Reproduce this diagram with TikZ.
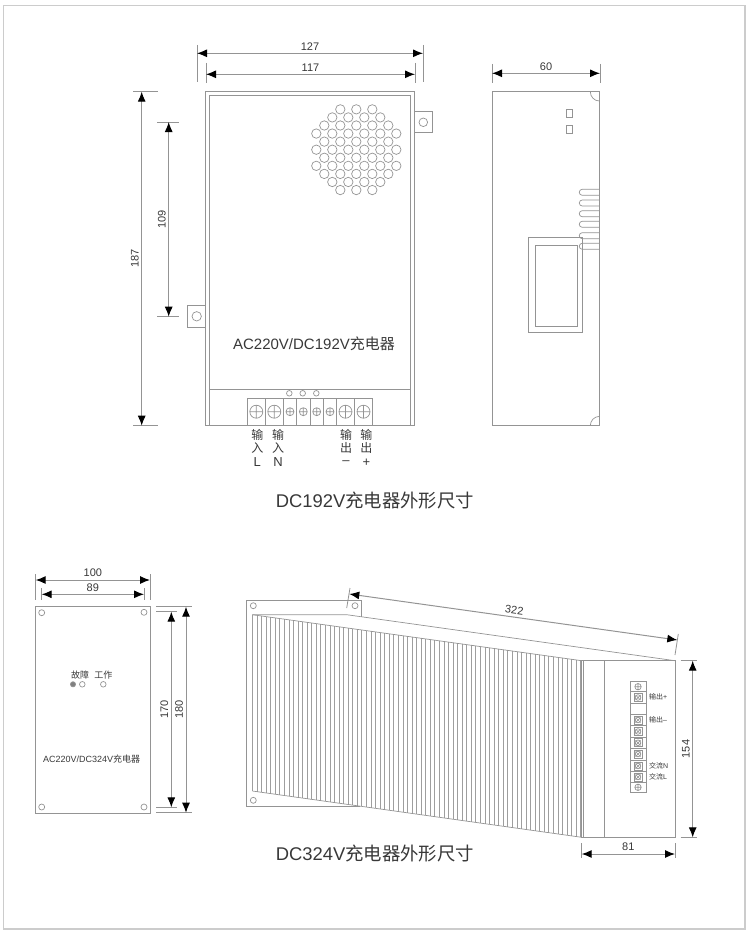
\documentclass[tikz,border=0pt]{standalone}
\usepackage{fontspec}
\setmainfont{Liberation Sans}
\newfontfamily\cjk{Noto Sans CJK SC}
\usetikzlibrary{arrows.meta,positioning}
\definecolor{linegray}{gray}{.58}
\definecolor{fingray}{gray}{.62}
\definecolor{textgray}{gray}{.22}
\definecolor{framegray}{gray}{.80}
\def\Fs#1{\fontsize{#1}{#1}\selectfont}
\def\CN#1{{\cjk #1}}
\tikzset{
	partline/.style={draw=linegray,line width=1pt},
	thinline/.style={draw=linegray,line width=.7pt},
	finline/.style={draw=fingray,line width=.55pt},
	extline/.style={draw=linegray,line width=.8pt},
	dimline/.style={draw=linegray,line width=1pt,{Latex[length=10pt,width=8pt,black]}-{Latex[length=10pt,width=8pt,black]}},
	dimlabel/.style={text=textgray,inner sep=2.5pt,font=\Fs{11}},
	caption/.style={text=textgray,inner sep=0pt},
}
% dimension line: name, start, end, text
\newcommand{\DimLine}[4]{
	\coordinate(#1a) at #2;
	\coordinate(#1b) at #3;
	\draw[dimline](#1a)-- node[dimlabel,sloped,above](#1t){#4} (#1b);
}
% extension line: name, start, end
\newcommand{\ExtLine}[3]{
	\coordinate(#1a) at #2;
	\coordinate(#1b) at #3;
	\draw[extline](#1a)--(#1b);
}
\begin{document}
\begin{tikzpicture}[x=1pt,y=-1pt]
	\useasboundingbox (0,0) rectangle (750,934);
	\draw[draw=framegray,line width=1.6pt] (3.5,5.5) rectangle (745,929);

	% DC192V front view
	\draw[partline] (205.3,91.7) rectangle (414,425);
	\draw[thinline] (209.3,425) -- (209.3,95.3) -- (410.7,95.3) -- (410.7,425);
	\draw[thinline] (209.3,389.3) -- (410.7,389.3);
	\draw[thinline] (414,111) rectangle (432.3,132.7);
	\draw[thinline] (423.3,122.3) circle (4.3pt);
	\draw[thinline] (187.3,305.3) rectangle (205.3,327.3);
	\draw[thinline] (196.7,316.3) circle (4.7pt);
	\foreach \rw/\hw in {-5/16,-4/24,-3/32,-2/40,-1/32,0/40,1/32,2/40,3/32,4/24,5/16}{
		\pgfmathtruncatemacro{\hn}{\hw/8}
		\foreach \hc in {0,...,\hn}
			\draw[thinline] ({356.3-\hw+16*\hc},{149.7+8.07*\rw}) circle (4.7pt);
	}
	\foreach \bx in {247.3,265.3,283.3,296.7,310,323.3,336.7,354.3,372.3}
		\draw[thinline] (\bx,398.3) -- (\bx,425);
	\draw[thinline] (247.3,398.3) -- (372.3,398.3);
	\foreach \sx in {256.3,274.3,345.5,363.5}
		\draw[thinline] (\sx,411.7) circle (6.5pt) ++(-6.5,0) -- ++(13,0) ++(-6.5,-6.5) -- ++(0,13);
	\foreach \sx in {290,303.3,316.7,330}
		\draw[thinline] (\sx,411.7) circle (4pt) ++(-4,0) -- ++(8,0) ++(-4,-4) -- ++(0,8);
	\foreach \sx in {289.3,302.7,316.3}
		\draw[thinline] (\sx,393.3) circle (2.8pt);
	\node[caption,font=\Fs{15}](T1) at (314,344){AC220V/DC192V\CN{充电器}};
	\node[caption,font=\Fs{12}](L1a) at (257.3,435){\CN{输}};
	\node[caption,font=\Fs{12}](L1b) at (257.3,448){\CN{入}};
	\node[caption,font=\Fs{13}](L1c) at (257.3,462.5){L};
	\node[caption,font=\Fs{12}](L2a) at (278,435){\CN{输}};
	\node[caption,font=\Fs{12}](L2b) at (278,448){\CN{入}};
	\node[caption,font=\Fs{13}](L2c) at (278,462.5){N};
	\node[caption,font=\Fs{12}](L3a) at (346,435){\CN{输}};
	\node[caption,font=\Fs{12}](L3b) at (346,448){\CN{出}};
	\node[caption,font=\Fs{13}](L3c) at (346,462.5){–};
	\node[caption,font=\Fs{12}](L4a) at (366.3,435){\CN{输}};
	\node[caption,font=\Fs{12}](L4b) at (366.3,448){\CN{出}};
	\node[caption,font=\Fs{13}](L4c) at (366.3,462.5){+};
	\ExtLine{E1}{(197,45)}{(197,82)}
	\ExtLine{E2}{(423,45)}{(423,82)}
	\ExtLine{E3}{(206,63)}{(206,83)}
	\ExtLine{E4}{(415,63)}{(415,83)}
	\DimLine{D127}{(197,53.3)}{(423,53.3)}{127}
	\DimLine{D117}{(206,74.3)}{(415,74.3)}{117}
	\ExtLine{E5}{(133.3,91.7)}{(158.3,91.7)}
	\ExtLine{E6}{(133.3,425.7)}{(158.3,425.7)}
	\ExtLine{E7}{(157.3,122)}{(179.3,122)}
	\ExtLine{E8}{(157.3,316.7)}{(179.3,316.7)}
	\DimLine{D187}{(141.7,425.7)}{(141.7,91.7)}{187}
	\DimLine{D109}{(168.7,316.7)}{(168.7,122)}{109}

	% DC192V side view
	\draw[partline] (492,91.7) rectangle (599.3,425.7);
	\draw[thinline] (590.3,91.7) .. controls (590.3,96.7) and (594.3,101) .. (599.3,101);
	\draw[thinline] (590.3,425.7) .. controls (590.3,420.7) and (594.3,416.4) .. (599.3,416.4);
	\draw[thinline] (566.3,109.7) rectangle (572.3,117);
	\draw[thinline] (566.3,125.7) rectangle (572.3,133);
	\foreach \fy in {192.3,203,213.7,224.3,235.7,246.3}
		\draw[thinline,rounded corners=2.9pt] (599.3,\fy-3) -- (579.3,\fy-3) -- (579.3,\fy+3) -- (599.3,\fy+3);
	\draw[partline] (528.3,237.3) rectangle (582,332.7);
	\draw[partline] (535.3,245) rectangle (577.7,326);
	\ExtLine{E9}{(492,64)}{(492,83)}
	\ExtLine{E10}{(600,64)}{(600,83)}
	\DimLine{D60}{(492,73.3)}{(600,73.3)}{60}

	\node[caption,font=\Fs{18.4}](T2) at (375,501){DC192V\CN{充电器外形尺寸}};

	% DC324V panel
	\draw[partline] (35.3,606.7) rectangle (150,813.3);
	\foreach \hx/\hy in {41.7/612.7,144/612.3,41.7/807,144/807}
		\draw[thinline] (\hx,\hy) circle (3pt);
	\node[caption,font=\Fs{9}](T3) at (80,675){\CN{故障}};
	\node[caption,font=\Fs{9}](T4) at (103.3,675){\CN{工作}};
	\draw[thinline,fill=gray] (73,684.3) circle (2.6pt);
	\draw[thinline] (82.3,684.3) circle (2.8pt);
	\draw[thinline] (103.3,684.3) circle (2.8pt);
	\node[caption,font=\Fs{9}](T5) at (91.7,759.3){AC220V/DC324V\CN{充电器}};
	\ExtLine{E11}{(35.7,574)}{(35.7,600)}
	\ExtLine{E12}{(150,574)}{(150,600)}
	\ExtLine{E13}{(41.7,588)}{(41.7,600)}
	\ExtLine{E14}{(144,588)}{(144,600)}
	\DimLine{D100}{(35.7,580)}{(150,580)}{100}
	\DimLine{D89}{(41.7,594.3)}{(144,594.3)}{89}
	\ExtLine{E15}{(156,611.7)}{(176.7,611.7)}
	\ExtLine{E16}{(156,807.3)}{(176.7,807.3)}
	\ExtLine{E17}{(156,606.7)}{(191.7,606.7)}
	\ExtLine{E18}{(156,812.7)}{(191.7,812.7)}
	\DimLine{D170}{(171.3,807.3)}{(171.3,611.7)}{170}
	\DimLine{D180}{(186,812.7)}{(186,606.7)}{180}

	% DC324V side view
	\draw[partline] (361.7,616.8) -- (361.7,600) -- (246.7,600) -- (246.7,806.7) -- (360,806.7);
	\foreach \hx/\hy in {253.3/605.7,355/605.7,253.3/800.3}
		\draw[thinline] (\hx,\hy) circle (3pt);
	\foreach \fn in {0,...,72}
		\draw[finline] ({252.3+4.56*\fn},{614.7+.6366*\fn}) -- ({252.3+4.56*\fn},{791+.6415*\fn});
	\draw[thinline] (252.3,614.7) -- (581.7,660.7);
	\draw[thinline] (252.3,791) -- (581.7,837.3);
	\draw[thinline] (252.3,614.7) -- (346.7,614.7) -- (675,660.7);
	\draw[partline] (581.7,660.7) rectangle (675,837.3);
	\draw[thinline] (582.9,660.7) -- (582.9,837.3);
	\draw[partline] (604.7,660.7) -- (604.7,837.3);
	% terminal strip
	\draw[partline] (630,681.7) rectangle (646,792.3);
	\foreach \ty in {691.7,703.3,714.3,725.7,737.3,748.3,760,771.7,782.3}
		\draw[thinline] (630,\ty) -- (646,\ty);
	\foreach \ty in {697.5,720,731.5,742.8,754,766,777}{
		\draw[thinline] (634,\ty-4) rectangle (642,\ty+4);
		\draw[thinline] (638,\ty) circle (2.8pt);
		\draw[thinline] (635.5,\ty-2.5) -- (640.5,\ty+2.5) (635.5,\ty+2.5) -- (640.5,\ty-2.5);
	}
	\foreach \ty in {686.7,787.3}
		\draw[thinline] (638,\ty) circle (3.2pt) ++(-3.2,0) -- ++(6.4,0) ++(-3.2,-3.2) -- ++(0,6.4);
	\node[caption,font=\Fs{7},anchor=west](P1) at (648.8,697){\CN{输出}+};
	\node[caption,font=\Fs{7},anchor=west](P2) at (648.8,720){\CN{输出}–};
	\node[caption,font=\Fs{7},anchor=west](P3) at (648.8,766){\CN{交流}N};
	\node[caption,font=\Fs{7},anchor=west](P4) at (648.8,777){\CN{交流}L};
	\ExtLine{E19}{(350,588)}{(346.7,608)}
	\ExtLine{E20}{(678.3,634)}{(675,655)}
	\DimLine{D322}{(349.3,594)}{(677.3,640)}{322}
	\ExtLine{E21}{(680.7,660.7)}{(697.3,660.7)}
	\ExtLine{E22}{(680.7,837.3)}{(697.3,837.3)}
	\DimLine{D154}{(692.7,837.3)}{(692.7,660.7)}{154}
	\ExtLine{E23}{(581.7,843)}{(581.7,858.3)}
	\ExtLine{E24}{(675,843)}{(675,858.3)}
	\DimLine{D81}{(581.7,854)}{(675,854)}{81}

	\node[caption,font=\Fs{18.4}](T6) at (375,854){DC324V\CN{充电器外形尺寸}};
\end{tikzpicture}
\end{document}
